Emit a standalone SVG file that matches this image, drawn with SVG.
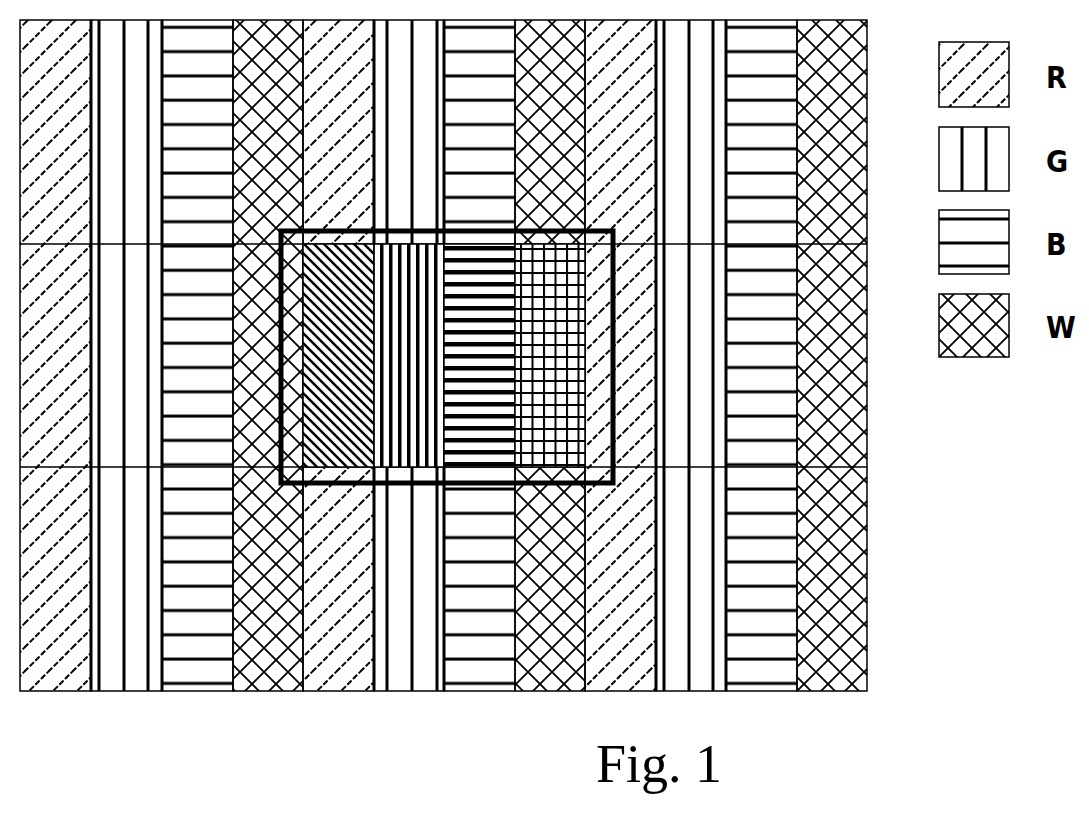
<svg xmlns="http://www.w3.org/2000/svg" width="1089" height="815" viewBox="0 0 1089 815">
<defs>
<pattern id="pR" patternUnits="userSpaceOnUse" width="24" height="24"><path d="M-6,6 L6,-6 M0,24 L24,0 M18,30 L30,18" stroke="#000" stroke-width="2" stroke-dasharray="6,2"/></pattern>
<pattern id="pB" patternUnits="userSpaceOnUse" y="1" width="10" height="24.3"><path d="M0,2 H10" stroke="#000" stroke-width="3"/></pattern>
<pattern id="pW" patternUnits="userSpaceOnUse" width="24" height="24"><path d="M0,0 L24,24 M24,0 L0,24" stroke="#000" stroke-width="1.8"/></pattern>
<pattern id="dR" patternUnits="userSpaceOnUse" width="10" height="10"><path d="M-5,5 L5,15 M0,0 L10,10 M5,-5 L15,5" stroke="#000" stroke-width="2.5"/></pattern>
<pattern id="dG" patternUnits="userSpaceOnUse" x="380" width="9" height="10"><rect width="3.5" height="10"/></pattern>
<pattern id="dB" patternUnits="userSpaceOnUse" y="246" width="10" height="12"><rect width="10" height="4.5"/></pattern>
<pattern id="dW" patternUnits="userSpaceOnUse" x="520" y="248" width="11.5" height="12"><path d="M1,0 V12 M0,1 H12" stroke="#000" stroke-width="2"/></pattern>
</defs>
<style>.c{stroke:#000;stroke-width:1.5}.g{stroke:#000;stroke-width:3;fill:none}.t{font-family:"DejaVu Sans Condensed","DejaVu Sans",sans-serif;font-weight:bold;font-size:30px}</style>
<rect width="1089" height="815" fill="#fff"/>
<g id="grid">
<rect class="c" x="20" y="20" width="71" height="671" fill="url(#pR)"/>
<rect class="c" x="91" y="20" width="71" height="671" fill="#fff"/>
<rect class="c" x="162" y="20" width="71" height="671" fill="url(#pB)"/>
<rect class="c" x="233" y="20" width="70" height="671" fill="url(#pW)"/>
<rect class="c" x="303" y="20" width="71" height="671" fill="url(#pR)"/>
<rect class="c" x="374" y="20" width="70" height="671" fill="#fff"/>
<rect class="c" x="444" y="20" width="71" height="671" fill="url(#pB)"/>
<rect class="c" x="515" y="20" width="70" height="671" fill="url(#pW)"/>
<rect class="c" x="585" y="20" width="71" height="671" fill="url(#pR)"/>
<rect class="c" x="656" y="20" width="70" height="671" fill="#fff"/>
<rect class="c" x="726" y="20" width="71" height="671" fill="url(#pB)"/>
<rect class="c" x="797" y="20" width="70" height="671" fill="url(#pW)"/>
<path class="g" d="M91,20 V691 M99,20 V691 M124,20 V691 M148,20 V691 M162,20 V691 M374,20 V691 M387,20 V691 M412,20 V691 M437,20 V691 M444,20 V691 M656,20 V691 M664,20 V691 M689,20 V691 M713,20 V691 M726,20 V691"/>
<path class="c" d="M20,244 H867 M20,467 H867"/>
</g>
<g id="highlight">
<rect x="303" y="244" width="71" height="223" fill="#fff"/><rect class="c" x="303" y="244" width="71" height="223" fill="url(#dR)"/>
<rect x="374" y="244" width="70" height="223" fill="#fff"/><rect class="c" x="374" y="244" width="70" height="223" fill="url(#dG)"/>
<rect x="444" y="244" width="71" height="223" fill="#fff"/><rect class="c" x="444" y="244" width="71" height="223" fill="url(#dB)"/>
<rect x="515" y="244" width="70" height="223" fill="#fff"/><rect class="c" x="515" y="244" width="70" height="223" fill="url(#dW)"/>
<rect x="281" y="231" width="332" height="252" fill="none" stroke="#000" stroke-width="5"/>
</g>
<g id="legend">
<rect class="c" x="939" y="42" width="70" height="65" fill="url(#pR)"/>
<rect class="c" x="939" y="127" width="70" height="64" fill="#fff"/>
<path class="g" d="M962,127 V191 M986,127 V191"/>
<rect class="c" x="939" y="210" width="70" height="64" fill="#fff"/>
<path class="g" d="M939,219 H1009 M939,243 H1009 M939,266 H1009"/>
<rect class="c" x="939" y="294" width="70" height="63" fill="url(#pW)"/>
<text class="t" x="1046" y="88">R</text>
<text class="t" x="1046" y="172">G</text>
<text class="t" x="1046" y="255">B</text>
<text class="t" x="1046" y="338">W</text>
</g>
<text x="596" y="782" font-family="Liberation Serif,serif" font-size="54">Fig. 1</text>
</svg>
